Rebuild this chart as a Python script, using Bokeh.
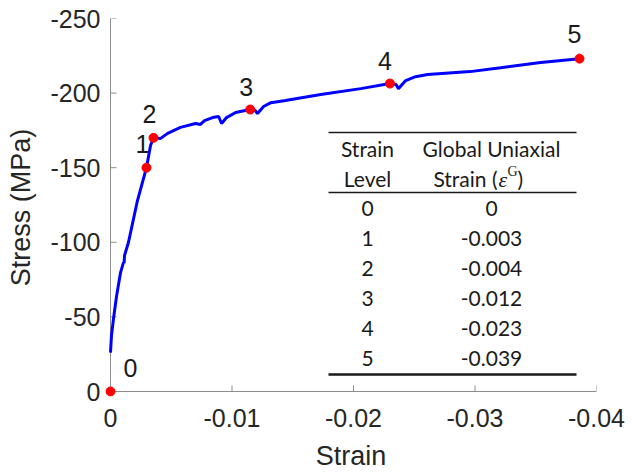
from bokeh.plotting import figure
from bokeh.models import Range1d, FixedTicker, ColumnDataSource, Label
from bokeh.core.properties import value
from bokeh.embed import file_html
from bokeh.resources import INLINE

# ---- data ----
curve_strain = [0, -0.00008, -0.00025, -0.0005, -0.00082, -0.00107, -0.00112, -0.00115,
                -0.00148, -0.00222, -0.00296, -0.0033, -0.00354, -0.0041, -0.0047,
                -0.00576, -0.007, -0.0074, -0.00774, -0.0084, -0.0089, -0.00914,
                -0.00955, -0.0103, -0.0115, -0.0119, -0.0121, -0.0126, -0.0132,
                -0.0144, -0.0173, -0.0206, -0.023, -0.0235, -0.0237, -0.0243,
                -0.0251, -0.0261, -0.0296, -0.0321, -0.0354, -0.0386]
curve_stress = [-26, -37.5, -49, -64, -79.5, -86.5, -86, -91,
                -100, -128, -150, -165, -170, -169.5, -173,
                -177, -179.6, -179, -181.6, -183.6, -184.3, -179.6,
                -183.6, -187, -189, -188.3, -186.3, -191, -193.6,
                -195, -199, -203, -206.4, -205.7, -203, -208.4,
                -211, -212.4, -214.4, -217, -220.5, -223.1]

level_names = ["0", "1", "2", "3", "4", "5"]
level_strain = [0, -0.00296, -0.00354, -0.0115, -0.023, -0.0386]
level_stress = [0, -150, -170, -189, -206.4, -223.1]

table_levels = ["0", "1", "2", "3", "4", "5"]
table_values = ["0", "-0.003", "-0.004", "-0.012", "-0.023", "-0.039"]

x_ticks = [0, -0.01, -0.02, -0.03, -0.04]
x_tick_labels = {0: "0", -0.01: "-0.01", -0.02: "-0.02", -0.03: "-0.03", -0.04: "-0.04"}
y_ticks = [0, -50, -100, -150, -200, -250]
y_tick_labels = {0: "0", -50: "-50", -100: "-100", -150: "-150", -200: "-200", -250: "-250"}

# ---- layout ----
W, H = 632, 473
AX_L, R, T, AX_B = 110, 596, 18, 391     # pixel positions of the axes
PAD = 5                                   # frame extends a little past the origin
XMIN, XMAX = 0, -0.04
YMIN, YMAX = 0, -250
AXIS_COLOR = "#8c8c8c"
TICK_LEN = 6

def px_x(px):
    return XMIN + (px - AX_L) / (R - AX_L) * (XMAX - XMIN)

def px_y(py):
    return YMIN + (AX_B - py) / (AX_B - T) * (YMAX - YMIN)

p = figure(width=W, height=H, output_backend="svg", toolbar_location=None,
           x_range=Range1d(px_x(AX_L - PAD), XMAX), y_range=Range1d(px_y(AX_B + PAD), YMAX),
           min_border_left=AX_L - PAD, min_border_right=W - R, min_border_top=T,
           min_border_bottom=H - AX_B - PAD)
p.outline_line_color = None
p.grid.visible = False
p.background_fill_color = "white"
p.border_fill_color = "white"

for ax in (p.xaxis[0], p.yaxis[0]):
    ax.axis_line_color = None
    ax.major_tick_line_color = None
    ax.major_tick_in = 0
    ax.major_tick_out = 0
    ax.minor_tick_line_color = None
    ax.major_label_text_font = "Liberation Sans"
    ax.major_label_text_font_size = "25px"
    ax.major_label_text_color = "#262626"
    ax.axis_label_text_font = "Liberation Sans"
    ax.axis_label_text_font_size = "27px"
    ax.axis_label_text_font_style = "normal"
    ax.axis_label_text_color = "#262626"

p.xaxis.ticker = FixedTicker(ticks=x_ticks)
p.xaxis.major_label_overrides = x_tick_labels
p.yaxis.ticker = FixedTicker(ticks=y_ticks)
p.yaxis.major_label_overrides = y_tick_labels
p.xaxis.axis_label = "Strain"
p.yaxis.axis_label = "Stress (MPa)"
p.xaxis.major_label_standoff = 12
p.yaxis.major_label_standoff = 5
p.xaxis.axis_label_standoff = 11
p.yaxis.axis_label_standoff = 11

# axis lines and inward ticks drawn at the data origin
p.segment(x0=[XMIN, XMIN], y0=[YMIN, YMIN], x1=[XMAX, XMIN], y1=[YMIN, YMAX],
          line_color=AXIS_COLOR, line_width=1)
p.segment(x0=x_ticks, y0=[YMIN] * len(x_ticks), x1=x_ticks,
          y1=[px_y(AX_B - TICK_LEN)] * len(x_ticks), line_color=AXIS_COLOR, line_width=1)
p.segment(x0=[XMIN] * len(y_ticks), y0=y_ticks, x1=[px_x(AX_L + TICK_LEN)] * len(y_ticks),
          y1=y_ticks, line_color=AXIS_COLOR, line_width=1)

p.line(curve_strain, curve_stress, line_color="#0000ff", line_width=3)

pts = ColumnDataSource(dict(x=level_strain, y=level_stress, t=level_names,
                            xo=[20, -4, -4, -4, -5, -5], yo=[-24, -24, -24, -23, -23, -25]))
p.scatter("x", "y", source=pts, size=9, fill_color="#ff0000", line_color="#ff0000")
p.text("x", "y", text="t", source=pts, x_offset="xo", y_offset="yo",
       text_align="center", text_baseline="middle", text_font=value("Liberation Sans"),
       text_font_size="25px", text_color="#1a1a1a")

# ---- inset table ----
tx0, tx1 = 328, 576
p.segment(x0=[px_x(tx0)] * 2, y0=[px_y(132), px_y(192)], x1=[px_x(tx1)] * 2,
          y1=[px_y(132), px_y(192)], line_color="#1a1a1a", line_width=1.5)
p.segment(x0=[px_x(tx0)], y0=[px_y(374)], x1=[px_x(tx1)], y1=[px_y(374)],
          line_color="#1a1a1a", line_width=2.5)

tfont = "Lato"
tsize = "21px"
col1, col2 = 367, 491

def tlabel(txt, px, py, align="center", font=tfont, size=tsize, style="normal"):
    p.add_layout(Label(x=px_x(px), y=px_y(py), text=txt, text_align=align,
                       text_baseline="middle", text_font=font, text_font_size=size,
                       text_font_style=style, text_color="#1a1a1a"))

tlabel("Strain", col1, 148)
tlabel("Level", col1, 178)
tlabel("Global Uniaxial", col2, 148)
tlabel("Strain (", 497, 178, align="right")
tlabel("ε", 498, 179, align="left", font="Liberation Serif", size="22px", style="italic")
tlabel("G", 507, 171, align="left", font="Liberation Serif", size="14px")
tlabel(")", 517, 178, align="left")
for i, (lv, sv) in enumerate(zip(table_levels, table_values)):
    tlabel(lv, col1, 208 + 30 * i)
    tlabel(sv, col2, 208 + 30 * i)

open("out.html", "w").write(file_html(p, INLINE))
